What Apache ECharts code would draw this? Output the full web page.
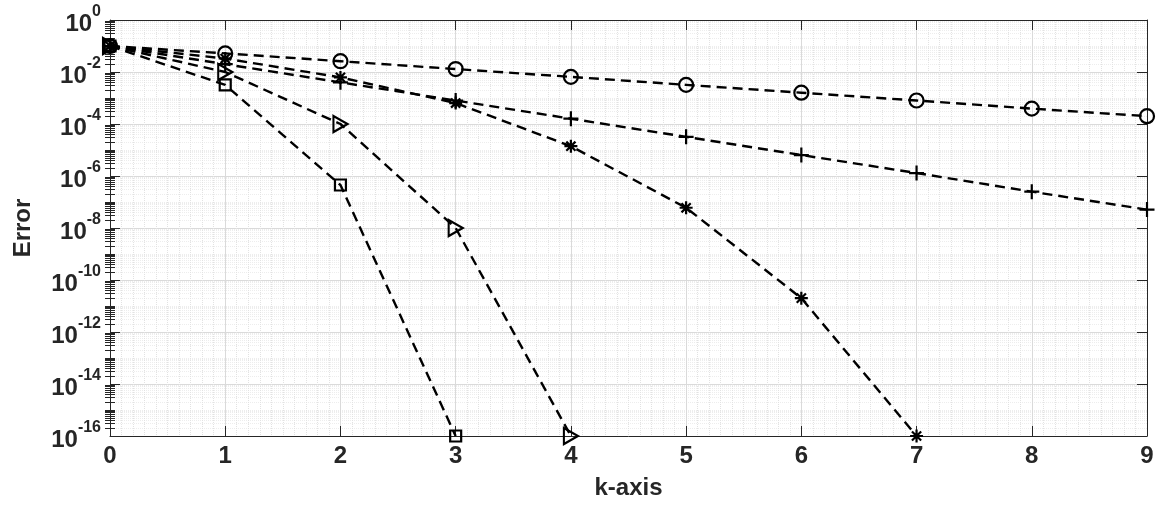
<!DOCTYPE html>
<html>
<head>
<meta charset="utf-8">
<script src="https://cdn.jsdelivr.net/npm/echarts@6/dist/echarts.min.js"></script>
<style>html,body{margin:0;padding:0;background:#fff}#c{width:1157px;height:506px}</style>
</head>
<body>
<div id="c"></div>
<script>
// ---- data ----
const kCircle = [0,1,2,3,4,5,6,7,8,9];
const errCircle = [1e-1, 5.2e-2, 2.6e-2, 1.3e-2, 6.5e-3, 3.2e-3, 1.6e-3, 8.0e-4, 3.9e-4, 2.0e-4];
const kPlus = [0,1,2,3,4,5,6,7,8,9];
const errPlus = [1e-1, 2.0e-2, 4.0e-3, 8.0e-4, 1.6e-4, 3.2e-5, 6.4e-6, 1.3e-6, 2.5e-7, 5.1e-8];
const kStar = [0,1,2,3,4,5,6,7];
const errStar = [1e-1, 3.3e-2, 6.2e-3, 6.4e-4, 1.4e-5, 6.0e-8, 2.0e-11, 1e-16];
const kTri = [0,1,2,3,4];
const errTri = [1e-1, 1.0e-2, 1.0e-4, 1.0e-8, 1e-16];
const kSq = [0,1,2,3];
const errSq = [1e-1, 3.2e-3, 4.5e-7, 1e-16];

const xTickMin = 0, xTickMax = 9, xTickStep = 1;
const yMin = 1e-16, yMax = 1;
const yMajorStepDecades = 2;

// minor tick positions of the log axis (2..9 x 10^k and odd decades)
const yMinorTicks = [];
for (let e = -16; e < 0; e++) {
  if (e % 2 !== 0) yMinorTicks.push(Number('1e' + e));
  for (let m = 2; m <= 9; m++) yMinorTicks.push(Number(m + 'e' + e));
}

const FONT = 'Liberation Sans';
const TXT = '#262626';
const pair = (xs, ys) => xs.map((x, i) => [x, ys[i]]);

const axisLineStyle = {color: TXT, width: 1};
const lineBase = {
  type: 'line',
  xAxisIndex: 0, yAxisIndex: 0,
  lineStyle: {color: '#000', width: 2.4, type: [10, 6]},
  itemStyle: {color: 'rgba(0,0,0,0)', borderColor: '#000', borderWidth: 2.2},
  showAllSymbol: true,
  silent: true,
  animation: false,
  z: 5
};

const plusPath = 'path://M-1 0L1 0M0 -1L0 1';
const starPath = 'path://M0 -1L0 1M-1 0L1 0M-0.707 -0.707L0.707 0.707M-0.707 0.707L0.707 -0.707';
const triPath = 'path://M0 0L1 0.5L0 1Z';

const chart = echarts.init(document.getElementById('c'), null, {renderer: 'canvas'});
chart.setOption({
  animation: false,
  backgroundColor: '#fff',
  grid: {left: 110, right: 10, top: 20, bottom: 70, containLabel: false},
  xAxis: [{
    type: 'value', min: xTickMin, max: xTickMax, interval: xTickStep, position: 'bottom',
    name: 'k-axis', nameLocation: 'middle', nameGap: 40,
    nameTextStyle: {fontFamily: FONT, fontWeight: 'bold', fontSize: 24, color: TXT},
    axisLine: {show: true, onZero: false, lineStyle: axisLineStyle},
    axisTick: {show: true, inside: true, length: 10, lineStyle: axisLineStyle},
    axisLabel: {fontFamily: FONT, fontWeight: 'bold', fontSize: 24, color: TXT, margin: 8},
    splitLine: {show: true, lineStyle: {color: '#dadada', width: 1}},
    minorTick: {show: false, splitNumber: 10},
    minorSplitLine: {show: true, lineStyle: {color: '#e2e2e2', width: 1, type: 'dotted'}}
  }, {
    type: 'value', min: xTickMin, max: xTickMax, interval: xTickStep, position: 'top',
    axisLine: {show: true, onZero: false, lineStyle: axisLineStyle},
    axisTick: {show: true, inside: true, length: 10, lineStyle: axisLineStyle},
    axisLabel: {show: false}, splitLine: {show: false}
  }],
  yAxis: [{
    type: 'log', logBase: 10, min: yMin, max: yMax, interval: yMajorStepDecades, position: 'left',
    name: 'Error', nameLocation: 'middle', nameGap: 75,
    nameTextStyle: {fontFamily: FONT, fontWeight: 'bold', fontSize: 24, color: TXT},
    axisLine: {show: true, onZero: false, lineStyle: axisLineStyle},
    axisTick: {show: true, inside: true, length: 10, lineStyle: axisLineStyle},
    axisLabel: {
      margin: 9,
      formatter: function (v) { const e = Math.round(Math.log10(v)); return '{b|10}{s|' + e + '}'; },
      rich: {
        b: {fontFamily: FONT, fontWeight: 'bold', fontSize: 24, color: TXT, verticalAlign: 'bottom', lineHeight: 32},
        s: {fontFamily: FONT, fontWeight: 'bold', fontSize: 16, color: TXT, verticalAlign: 'top', lineHeight: 32}
      }
    },
    splitLine: {show: true, lineStyle: {color: '#dadada', width: 1}}
  }, {
    type: 'log', logBase: 10, min: yMin, max: yMax, position: 'left',
    axisLine: {show: false},
    axisTick: {show: true, inside: true, length: 5, customValues: yMinorTicks, lineStyle: axisLineStyle},
    axisLabel: {show: false},
    splitLine: {show: true, lineStyle: {color: '#ededed', width: 1, type: 'dotted'}}
  }, {
    type: 'log', logBase: 10, min: yMin, max: yMax, interval: yMajorStepDecades, position: 'right',
    axisLine: {show: true, onZero: false, lineStyle: axisLineStyle},
    axisTick: {show: true, inside: true, length: 10, lineStyle: axisLineStyle},
    axisLabel: {show: false}, splitLine: {show: false}
  }, {
    type: 'log', logBase: 10, min: yMin, max: yMax, position: 'right',
    axisLine: {show: false},
    axisTick: {show: true, inside: true, length: 5, customValues: yMinorTicks, lineStyle: axisLineStyle},
    axisLabel: {show: false}, splitLine: {show: false}
  }],
  series: [
    Object.assign({}, lineBase, {name: 'circle', data: pair(kCircle, errCircle), symbol: 'circle', symbolSize: 14}),
    Object.assign({}, lineBase, {name: 'plus', data: pair(kPlus, errPlus), symbol: plusPath, symbolSize: 15}),
    Object.assign({}, lineBase, {name: 'star', data: pair(kStar, errStar), symbol: starPath, symbolSize: 13}),
    Object.assign({}, lineBase, {name: 'triangle', data: pair(kTri, errTri), symbol: triPath, symbolSize: [14, 16]}),
    Object.assign({}, lineBase, {name: 'square', data: pair(kSq, errSq), symbol: 'rect', symbolSize: 11})
  ]
});
</script>
</body>
</html>
